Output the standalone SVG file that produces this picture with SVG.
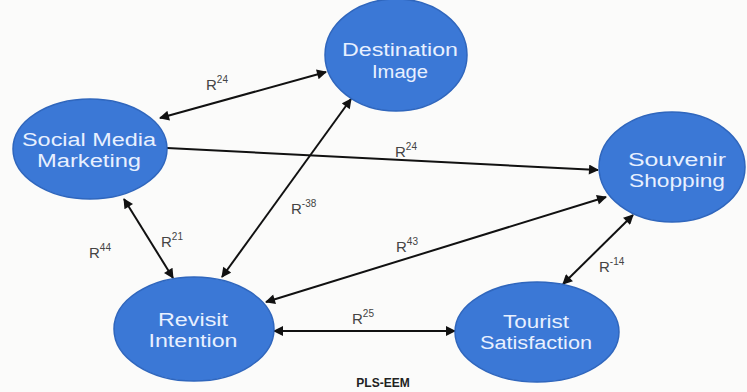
<svg xmlns="http://www.w3.org/2000/svg" width="747" height="392" viewBox="0 0 747 392">
<defs>
<marker id="ah" viewBox="0 0 10 10" refX="9" refY="5" markerWidth="5.5" markerHeight="5" orient="auto-start-reverse" markerUnits="strokeWidth">
<path d="M0,0 L10,5 L0,10 z" fill="#111"/>
</marker>
</defs>
<style>
.node ellipse{fill:#3b78d6;stroke:#2f66bd;stroke-width:1.5}
.node text{font-family:"Liberation Sans",Arial,sans-serif;font-size:18px;fill:#e8f0ff;text-anchor:middle}
.edge{stroke:#111;stroke-width:2;fill:none}
.lbl{font-family:"Liberation Sans",Arial,sans-serif;font-size:15px;fill:#444}
.sup{font-size:10px}
</style>
<rect width="747" height="392" fill="#fbfbfa"/>
<g id="connectors">
<line class="edge" x1="160" y1="118" x2="326" y2="72" marker-start="url(#ah)" marker-end="url(#ah)"/>
<line class="edge" x1="167" y1="148" x2="598" y2="170" marker-end="url(#ah)"/>
<line class="edge" x1="124" y1="199" x2="173" y2="278" marker-start="url(#ah)" marker-end="url(#ah)"/>
<line class="edge" x1="351" y1="99" x2="222" y2="277" marker-start="url(#ah)" marker-end="url(#ah)"/>
<line class="edge" x1="266" y1="302" x2="606" y2="197" marker-start="url(#ah)" marker-end="url(#ah)"/>
<line class="edge" x1="274" y1="331" x2="455" y2="331" marker-start="url(#ah)" marker-end="url(#ah)"/>
<line class="edge" x1="563" y1="284" x2="633" y2="215" marker-start="url(#ah)" marker-end="url(#ah)"/>
<text class="lbl" x="206" y="90">R<tspan class="sup" dy="-7">24</tspan></text>
<text class="lbl" x="395" y="157">R<tspan class="sup" dy="-7">24</tspan></text>
<text class="lbl" x="89" y="258">R<tspan class="sup" dy="-7">44</tspan></text>
<text class="lbl" x="161" y="247">R<tspan class="sup" dy="-7">21</tspan></text>
<text class="lbl" x="291" y="214">R<tspan class="sup" dy="-7">-38</tspan></text>
<text class="lbl" x="396" y="252">R<tspan class="sup" dy="-7">43</tspan></text>
<text class="lbl" x="352" y="324">R<tspan class="sup" dy="-7">25</tspan></text>
<text class="lbl" x="599" y="272">R<tspan class="sup" dy="-7">-14</tspan></text>
</g>
<g id="smm" class="node">
<ellipse cx="90" cy="149" rx="77" ry="50"/>
<text x="89" y="146" textLength="134" lengthAdjust="spacingAndGlyphs">Social Media</text>
<text x="89" y="167" textLength="104" lengthAdjust="spacingAndGlyphs">Marketing</text>
</g>
<g id="di" class="node">
<ellipse cx="396" cy="55" rx="71" ry="56"/>
<text x="400" y="56" textLength="116" lengthAdjust="spacingAndGlyphs">Destination</text>
<text x="400" y="78" textLength="56" lengthAdjust="spacingAndGlyphs">Image</text>
</g>
<g id="ss" class="node">
<ellipse cx="672" cy="167" rx="73" ry="55"/>
<text x="677" y="166" textLength="98" lengthAdjust="spacingAndGlyphs">Souvenir</text>
<text x="677" y="187" textLength="96" lengthAdjust="spacingAndGlyphs">Shopping</text>
</g>
<g id="ri" class="node">
<ellipse cx="194" cy="329" rx="80" ry="52"/>
<text x="193" y="326" textLength="70" lengthAdjust="spacingAndGlyphs">Revisit</text>
<text x="193" y="347" textLength="89" lengthAdjust="spacingAndGlyphs">Intention</text>
</g>
<g id="ts" class="node">
<ellipse cx="537" cy="332" rx="82" ry="50"/>
<text x="536" y="328" textLength="66" lengthAdjust="spacingAndGlyphs">Tourist</text>
<text x="536" y="349" textLength="112" lengthAdjust="spacingAndGlyphs">Satisfaction</text>
</g>
<text x="383" y="387" font-family="Liberation Sans,Arial,sans-serif" font-size="12" font-weight="bold" fill="#222" text-anchor="middle">PLS-EEM</text>
</svg>
